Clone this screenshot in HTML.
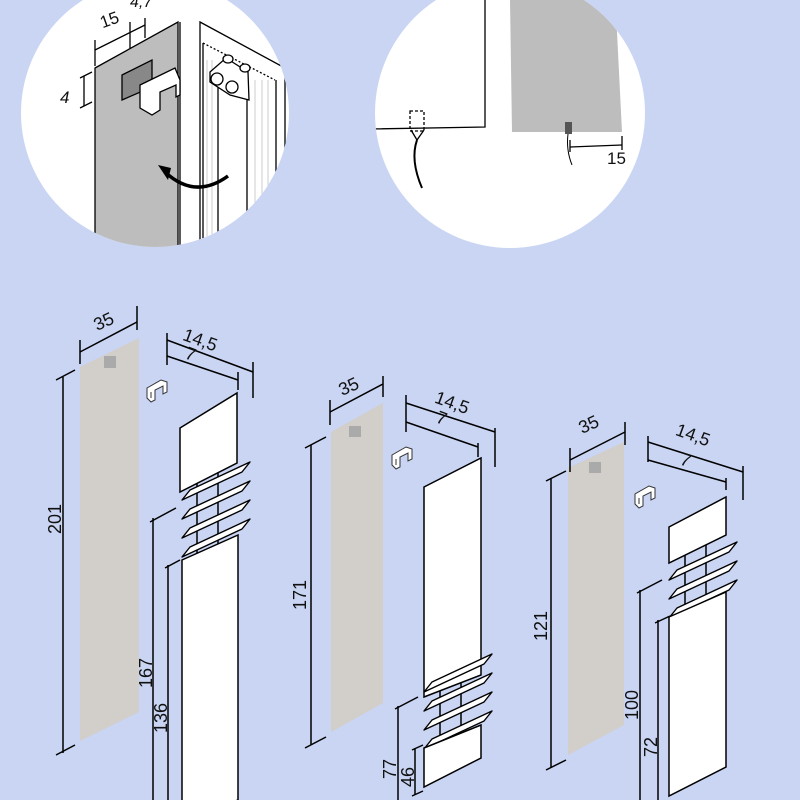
<!DOCTYPE html>
<html><head><meta charset="utf-8"><style>
html,body{margin:0;padding:0;background:#c9d5f3;}
svg{display:block}
text{font-family:"Liberation Sans",sans-serif;fill:#111;}
</style></head><body>
<svg width="800" height="800" viewBox="0 0 800 800" xmlns="http://www.w3.org/2000/svg">
<defs>
<clipPath id="c1"><circle cx="155" cy="113" r="134"/></clipPath>
<clipPath id="c2"><circle cx="510" cy="113" r="135"/></clipPath>
<g id="fin"><polygon points="0,0 8,-10 68,-38 60,-28" fill="#fff" stroke="#000" stroke-width="1.4" stroke-linejoin="round"/></g>
<g id="brk"><path d="M0,8 L14,0 L20,2 L20,12 L16,14 L16,6 L8,10 L8,20 L4,22 L0,18 Z M4,12 L4,18" fill="#fff" stroke="#333" stroke-width="1"/></g>
</defs>
<rect width="800" height="800" fill="#c9d5f3"/>

<!-- Circle 1 -->
<circle cx="155" cy="113" r="134" fill="#fff"/>
<g clip-path="url(#c1)" stroke="#000" stroke-width="1.3" fill="none">
  <polygon points="95,68 178,22 178,260 95,260" fill="#bdbdbd"/>
  <line x1="180" y1="22" x2="180" y2="260"/>
  <polygon points="200,22 285,68 285,260 200,260" fill="#fff"/>
  <line x1="203" y1="43" x2="203" y2="260"/>
  <line x1="218" y1="80" x2="218" y2="260"/>
  <line x1="247" y1="100" x2="247" y2="212"/>
  <line x1="276" y1="80" x2="276" y2="175"/>
  <path d="M203,43 L275,80" stroke-dasharray="2,2"/>
  <g stroke="#ccc" stroke-width="1"><line x1="207" y1="60" x2="207" y2="245"/><line x1="212" y1="60" x2="212" y2="245"/><line x1="255" y1="80" x2="255" y2="212"/><line x1="262" y1="80" x2="262" y2="200"/><line x1="268" y1="80" x2="268" y2="190"/></g>
  <path d="M210,72 L226,58 L248,72 L249,100 L230,95 L210,82 Z" fill="#fff"/>
  <circle cx="217" cy="79" r="6" fill="#fff"/><circle cx="232" cy="87" r="6" fill="#fff"/>
  <ellipse cx="228" cy="59" rx="5" ry="4" fill="#fff"/><ellipse cx="245" cy="68" rx="5" ry="4" fill="#fff"/>
  <polygon points="122,75 152,60 152,87 122,100" fill="#888"/>
  <path d="M140,85 L175,68 L180,80 L180,95 L176,97 L176,85 L160,92 L160,110 L152,115 L140,108 Z" fill="#fff"/>
  <line x1="95" y1="50" x2="145" y2="25"/>
  <line x1="95" y1="40" x2="95" y2="66"/>
  <line x1="130" y1="22" x2="130" y2="48"/>
  <line x1="145" y1="18" x2="145" y2="38"/>
  <line x1="84" y1="76" x2="84" y2="106"/>
  <line x1="80" y1="78" x2="92" y2="72"/><line x1="80" y1="108" x2="92" y2="102"/>
  <path d="M228,176 Q195,200 165,172" stroke-width="3.5"/>
</g>
<polygon points="158,165 168,180 171,168" fill="#000"/>
<text x="100" y="26" font-size="17" transform="rotate(-20 108 20)">15</text>
<text x="130" y="7" font-size="16" font-style="italic">4,7</text>
<text x="60" y="103" font-size="17" font-style="italic">4</text>

<!-- Circle 2 -->
<circle cx="510" cy="113" r="135" fill="#fff"/>
<g clip-path="url(#c2)" stroke="#000" stroke-width="1.3" fill="none">
  <polyline points="370,129 485,127 485,0"/>
  <polygon points="510,0 615,0 617,32 622,132 512,132" fill="#bdbdbd" stroke="none"/>
  <rect x="410" y="111" width="14" height="20" stroke-dasharray="3,2"/>
  <path d="M411,130 L417,140 L424,130"/>
  <path d="M417,140 Q410,160 422,188" stroke-width="2"/>
  <rect x="565" y="122" width="7" height="12" fill="#555" stroke="none"/>
  <path d="M568,134 Q566,150 572,165" stroke-width="1"/>
  <line x1="570" y1="147" x2="622" y2="145"/>
  <line x1="622" y1="136" x2="622" y2="150"/>
  <line x1="570" y1="140" x2="570" y2="152"/>
</g>
<text x="607" y="164" font-size="17">15</text>

<g stroke="#000" stroke-width="1.5" fill="none">
<!-- Assembly 1 -->
<polygon points="80,367 139,338 139,712 80,741" fill="#d2ceca" stroke="none"/>
<rect x="104" y="356" width="12" height="12" fill="#aaa" stroke="none"/>
<line x1="80" y1="352" x2="137" y2="322"/><line x1="80" y1="340" x2="80" y2="364"/><line x1="137" y1="306" x2="137" y2="330"/>
<line x1="63" y1="377" x2="63" y2="753"/><line x1="56" y1="380" x2="75" y2="370"/><line x1="56" y1="755" x2="75" y2="745"/>
<use href="#brk" x="147" y="380"/>
<line x1="167" y1="340" x2="253" y2="372"/><line x1="167" y1="356" x2="238" y2="380"/>
<line x1="167" y1="333" x2="167" y2="365"/><line x1="253" y1="362" x2="253" y2="398"/><line x1="238" y1="372" x2="238" y2="390"/>
<line x1="197" y1="480" x2="197" y2="555"/><line x1="218" y1="470" x2="218" y2="545"/>
<polygon points="180,428 237,393 237,463 180,492" fill="#fff"/>
<use href="#fin" x="182" y="500"/><use href="#fin" x="182" y="519"/><use href="#fin" x="182" y="538"/><use href="#fin" x="182" y="557"/>
<polygon points="182,560 238,535 238,800 182,820" fill="#fff"/>
<line x1="153" y1="518" x2="153" y2="800"/><line x1="150" y1="522" x2="176" y2="508"/>
<line x1="168" y1="565" x2="168" y2="800"/><line x1="165" y1="568" x2="180" y2="560"/>

<!-- Assembly 2 -->
<polygon points="331,432 383,403 383,703 331,732" fill="#d2ceca" stroke="none"/>
<rect x="349" y="426" width="12" height="11" fill="#aaa" stroke="none"/>
<line x1="330" y1="412" x2="383" y2="384"/><line x1="330" y1="400" x2="330" y2="425"/><line x1="383" y1="376" x2="383" y2="397"/>
<line x1="311" y1="445" x2="311" y2="745"/><line x1="305" y1="448" x2="326" y2="437"/><line x1="305" y1="748" x2="326" y2="737"/>
<use href="#brk" x="392" y="447"/>
<line x1="406" y1="403" x2="495" y2="432"/><line x1="406" y1="422" x2="478" y2="447"/>
<line x1="406" y1="395" x2="406" y2="432"/><line x1="495" y1="428" x2="495" y2="467"/><line x1="478" y1="443" x2="478" y2="457"/>
<line x1="440" y1="690" x2="440" y2="760"/><line x1="461" y1="680" x2="461" y2="740"/>
<polygon points="424,487 481,458 481,675 424,697" fill="#fff"/>
<use href="#fin" x="424" y="692"/><use href="#fin" x="424" y="711"/><use href="#fin" x="424" y="730"/><use href="#fin" x="424" y="749"/>
<polygon points="424,748 481,725 481,758 424,787" fill="#fff"/>
<line x1="398" y1="706" x2="398" y2="800"/><line x1="395" y1="709" x2="418" y2="697"/>
<line x1="415" y1="748" x2="415" y2="795"/><line x1="412" y1="750" x2="423" y2="745"/><line x1="412" y1="796" x2="423" y2="791"/>

<!-- Assembly 3 -->
<polygon points="568,468 624,442 624,725 568,755" fill="#d2ceca" stroke="none"/>
<rect x="589" y="462" width="12" height="11" fill="#aaa" stroke="none"/>
<line x1="570" y1="460" x2="625" y2="432"/><line x1="570" y1="448" x2="570" y2="472"/><line x1="625" y1="422" x2="625" y2="445"/>
<line x1="551" y1="478" x2="551" y2="768"/><line x1="546" y1="481" x2="566" y2="471"/><line x1="546" y1="770" x2="566" y2="760"/>
<use href="#brk" x="635" y="486"/>
<line x1="648" y1="442" x2="743" y2="472"/><line x1="648" y1="460" x2="726" y2="482"/>
<line x1="648" y1="436" x2="648" y2="462"/><line x1="743" y1="466" x2="743" y2="500"/><line x1="726" y1="478" x2="726" y2="490"/>
<line x1="685" y1="555" x2="685" y2="605"/><line x1="706" y1="545" x2="706" y2="595"/>
<polygon points="669,527 726,497 726,535 669,563" fill="#fff"/>
<use href="#fin" x="669" y="580"/><use href="#fin" x="669" y="599"/><use href="#fin" x="669" y="618"/>
<polygon points="669,617 726,592 726,767 669,796" fill="#fff"/>
<line x1="640" y1="590" x2="640" y2="800"/><line x1="637" y1="593" x2="662" y2="580"/>
<line x1="658" y1="620" x2="658" y2="800"/><line x1="655" y1="623" x2="670" y2="616"/>
</g>

<g font-size="18">
<text x="94" y="327" transform="rotate(-25 105 322)">35</text>
<text x="182" y="346" transform="rotate(20 200 342)">14,5</text>
<text x="185" y="360" transform="rotate(20 190 356)">7</text>
<text x="0" y="0" transform="translate(61,534) rotate(-90)">201</text>
<text x="0" y="0" transform="translate(152,688) rotate(-90)">167</text>
<text x="0" y="0" transform="translate(167,733) rotate(-90)">136</text>

<text x="339" y="392" transform="rotate(-25 350 387)">35</text>
<text x="434" y="408" transform="rotate(20 450 404)">14,5</text>
<text x="436" y="424" transform="rotate(20 441 420)">7</text>
<text x="0" y="0" transform="translate(306,610) rotate(-90)">171</text>
<text x="0" y="0" transform="translate(396,779) rotate(-90)">77</text>
<text x="0" y="0" transform="translate(414,787) rotate(-90)">46</text>

<text x="579" y="430" transform="rotate(-25 590 425)">35</text>
<text x="675" y="440" transform="rotate(20 690 436)">14,5</text>
<text x="680" y="466" transform="rotate(20 685 462)">7</text>
<text x="0" y="0" transform="translate(547,641) rotate(-90)">121</text>
<text x="0" y="0" transform="translate(638,720) rotate(-90)">100</text>
<text x="0" y="0" transform="translate(657,757) rotate(-90)">72</text>
</g>
</svg>
</body></html>
